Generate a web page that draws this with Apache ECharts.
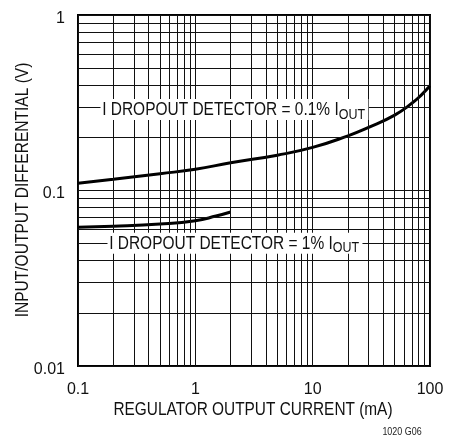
<!DOCTYPE html>
<html><head><meta charset="utf-8">
<script src="https://cdn.jsdelivr.net/npm/echarts@6/dist/echarts.min.js"></script>
<style>html,body{margin:0;padding:0;background:#fff}#c{width:461px;height:438px}</style>
</head><body><div id="c"></div>
<script>
// Data
const curve01pct = [[0.1,0.110],[0.2,0.116],[0.5,0.1247],[1,0.132],[2,0.144],[5,0.159],[10,0.176],[20,0.205],[30,0.229],[50,0.269],[70,0.314],[85,0.352],[100,0.395]];
const curve1pct = [[0.1,0.0617],[0.2,0.0625],[0.5,0.0644],[1,0.0673],[1.5,0.0715],[2,0.0754]];
const xTickLabels = ['0.1','1','10','100'];
const yTickLabels = ['0.01','0.1','1'];
const xGridValues = [0.2,0.3,0.4,0.5,0.6,0.7,0.8,0.9,2,3,4,5,6,7,8,9,20,30,40,50,60,70,80,90];
const yGridValues = [0.02,0.03,0.04,0.05,0.06,0.07,0.08,0.09,0.2,0.3,0.4,0.5,0.6,0.7,0.8,0.9];
const label01 = 'I DROPOUT DETECTOR = 0.1% I';
const label1 = 'I DROPOUT DETECTOR = 1% I';
const subText = 'OUT';
const xTitle = 'REGULATOR OUTPUT CURRENT (mA)';
const yTitle = 'INPUT/OUTPUT DIFFERENTIAL (V)';
const figId = '1020 G06';

const REG = '"Liberation Sans",Arial,sans-serif';
const SX = 0.832; // horizontal condensing of annotation text

function fmt(labels, rich){
  return function(v){
    for (const s of labels){ if (Math.abs(parseFloat(s)-v) < 1e-9*Math.max(1,v)) return rich ? '{t|' + s + '}' : s; }
    return '';
  };
}

const chart = echarts.init(document.getElementById('c'), null, {renderer:'canvas'});
chart.setOption({
  animation: false,
  backgroundColor: '#fff',
  grid: {left: 78, right: 31, top: 15, bottom: 72, show: true, borderColor: '#000', borderWidth: 2, backgroundColor: 'transparent'},
  xAxis: {
    type: 'log', logBase: 10, min: 0.1, max: 100,
    axisLine: {show: false}, axisTick: {show: false},
    axisLabel: {fontFamily: REG, fontSize: 16, color: '#111', margin: 16, formatter: fmt(xTickLabels, false)},
    splitLine: {show: true, lineStyle: {color: '#111', width: 1}}
  },
  yAxis: {
    type: 'log', logBase: 10, min: 0.01, max: 1,
    axisLine: {show: false}, axisTick: {show: false},
    axisLabel: {fontFamily: REG, fontSize: 16, color: '#111', margin: 13, formatter: fmt(yTickLabels, true),
      rich: {t: {fontFamily: REG, fontSize: 16, color: '#111', padding: [7,0,0,0]}}},
    splitLine: {show: true, lineStyle: {color: '#111', width: 1}}
  },
  series: [
    {
      type: 'line', name: 'grid', data: [], silent: true, z: 1,
      markLine: {
        silent: true, symbol: ['none','none'], animation: false,
        label: {show: false},
        lineStyle: {color: '#111', width: 1, type: 'solid'},
        emphasis: {disabled: true},
        data: xGridValues.map(v => ({xAxis: v})).concat(yGridValues.map(v => ({yAxis: v})))
      }
    },
    {type: 'line', name: '0.1%', data: curve01pct, smooth: 0.5, showSymbol: false, symbol: 'none', z: 3,
     lineStyle: {color: '#000', width: 3}},
    {type: 'line', name: '1%', data: curve1pct, smooth: 0.5, showSymbol: false, symbol: 'none', z: 3,
     lineStyle: {color: '#000', width: 3}}
  ]
});

// Annotations anchored in data coordinates through the chart's own scales
const p1 = chart.convertToPixel({gridIndex: 0}, [0.1555, 0.3]);
const p2 = chart.convertToPixel({gridIndex: 0}, [0.1784, 0.05]);
const rich = {
  m: {font: '18.6px ' + REG, fill: '#111', lineHeight: 20},
  s: {font: '15px ' + REG, fill: '#111', lineHeight: 14, padding: [9,0,0,0]}
};
function annot(p, dy, txt){
  return {
    type: 'text', x: p[0], y: p[1] + dy, scaleX: SX, z: 100, silent: true,
    style: {
      text: '{m|' + txt + '}{s|' + subText + '}', rich: rich,
      align: 'left', verticalAlign: 'middle',
      backgroundColor: '#fff', padding: [1,4,0,2]
    }
  };
}
chart.setOption({
  graphic: [
    annot(p1, 2.7, label01),
    annot(p2, 0, label1),
    {type: 'text', x: 253, y: 410, scaleX: 0.855, silent: true,
     style: {text: xTitle, font: '18px ' + REG, fill: '#111', align: 'center', verticalAlign: 'middle'}},
    {type: 'text', x: 23, y: 190, rotation: Math.PI/2, scaleX: 0.84, silent: true,
     style: {text: yTitle, font: '18.5px ' + REG, fill: '#111', align: 'center', verticalAlign: 'middle'}},
    {type: 'text', x: 402, y: 432.5, scaleX: 0.85, silent: true,
     style: {text: figId, font: '10.5px ' + REG, fill: '#222', align: 'center', verticalAlign: 'middle'}}
  ]
});
</script></body></html>
